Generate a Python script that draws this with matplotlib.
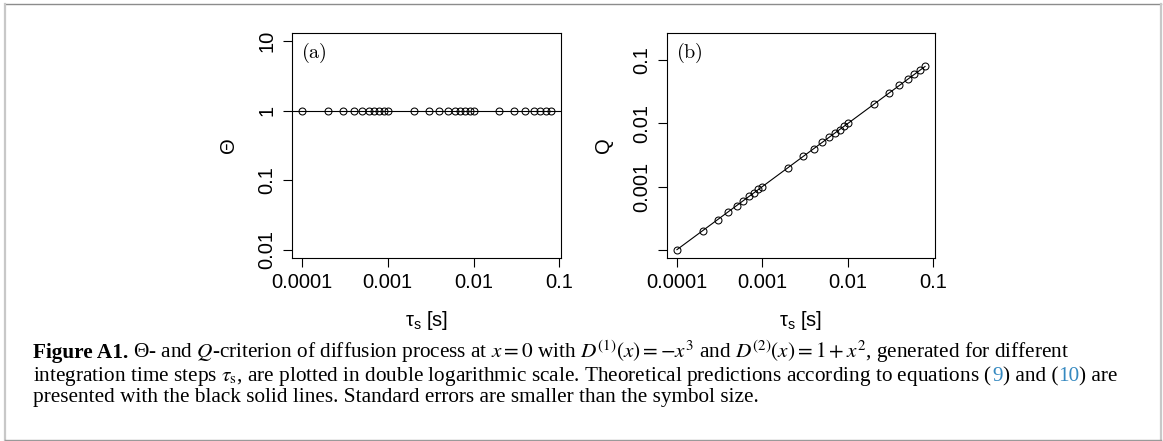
import numpy as np
import matplotlib
matplotlib.use("Agg")
import matplotlib.pyplot as plt
from matplotlib.lines import Line2D
from matplotlib.transforms import IdentityTransform

# integration time steps and measured criteria
tau = [1e-4, 2e-4, 3e-4, 4e-4, 5e-4, 6e-4, 7e-4, 8e-4, 9e-4, 1e-3,
       2e-3, 3e-3, 4e-3, 5e-3, 6e-3, 7e-3, 8e-3, 9e-3, 1e-2,
       2e-2, 3e-2, 4e-2, 5e-2, 6e-2, 7e-2, 8e-2]
theta = [1.0, 1.0, 1.0, 1.0, 1.0, 1.0, 1.0, 1.0, 1.0, 1.0,
         1.0, 1.0, 1.0, 1.0, 1.0, 1.0, 1.0, 1.0, 1.0,
         1.0, 1.0, 1.0, 1.0, 1.0, 1.0, 1.0]
q = [1e-4, 2e-4, 3e-4, 4e-4, 5e-4, 6e-4, 7e-4, 8e-4, 9e-4, 1e-3,
     2e-3, 3e-3, 4e-3, 5e-3, 6e-3, 7e-3, 8e-3, 9e-3, 1e-2,
     2e-2, 3e-2, 4e-2, 5e-2, 6e-2, 7e-2, 8e-2]

# theoretical predictions
theta_theory = 1.0
q_theory_tau = [1e-4, 8e-2]
q_theory = [1e-4, 8e-2]

x_ticks = [1e-4, 1e-3, 1e-2, 1e-1]
x_ticklabels = ["0.0001", "0.001", "0.01", "0.1"]
theta_ticks = [0.01, 0.1, 1, 10]
theta_ticklabels = ["0.01", "0.1", "1", "10"]
q_ticks = [1e-4, 1e-3, 1e-2, 1e-1]
q_ticklabels = ["", "0.001", "0.01", "0.1"]
theta_range = [0.01, 10]
q_range = [1e-4, 0.2]

SANS = "Liberation Sans"
SERIF = "Liberation Serif"
LINK = "#3589c0"

W, H = 1163, 441
fig = plt.figure(figsize=(W / 100, H / 100), dpi=100)


def log_lim(lo, hi):
    # R style 4% padding in log space
    a, b = np.log10(lo), np.log10(hi)
    pad = 0.04 * (b - a)
    return 10 ** (a - pad), 10 ** (b + pad)


def setup_panel(ax, yticks, yticklabels, ylim, ylabel, tag):
    ax.set_xscale("log")
    ax.set_yscale("log")
    ax.set_xlim(*log_lim(min(tau), max(tau)))
    ax.set_ylim(*log_lim(*ylim))
    ax.set_xticks(x_ticks)
    ax.set_xticklabels(x_ticklabels, fontfamily=SANS, fontsize=14.5)
    ax.set_yticks(yticks)
    ax.set_yticklabels(yticklabels, fontfamily=SANS, fontsize=14.5)
    ax.minorticks_off()
    ax.tick_params(axis="both", direction="out", length=6.5, width=0.8, color="black")
    ax.tick_params(axis="x", pad=4.5)
    ax.tick_params(axis="y", pad=4.5, labelrotation=90)
    for lab in ax.get_yticklabels():
        lab.set_verticalalignment("center")
    for sp in ax.spines.values():
        sp.set_linewidth(0.8)
        sp.set_color("black")
    ax.set_xlabel("τ$_\\mathregular{s}$ [s]", fontfamily=SANS, fontsize=14.5)
    ax.xaxis.set_label_coords(0.5, -0.225)
    ax.set_ylabel(ylabel, fontfamily=SANS, fontsize=14.5)
    ax.yaxis.set_label_coords(-0.2, 0.5)
    ax.text(0.033, 0.91, r"$\mathrm{(" + tag + ")}$", transform=ax.transAxes,
            fontsize=14.5, math_fontfamily="cm", ha="left", va="center")


marker_kw = dict(marker="o", markersize=5, markerfacecolor="none",
                 markeredgecolor="black", markeredgewidth=0.75, linestyle="none")

ax_a = fig.add_axes([292 / W, 1 - 258 / H, 269 / W, 225 / H])
ax_a.axhline(theta_theory, color="black", lw=0.8)
ax_a.plot(tau, theta, **marker_kw)
setup_panel(ax_a, theta_ticks, theta_ticklabels, theta_range, "Θ", "a")

ax_b = fig.add_axes([667 / W, 1 - 258 / H, 268 / W, 225 / H])
ax_b.plot(q_theory_tau, q_theory, color="black", lw=0.8)
ax_b.plot(tau, q, **marker_kw)
setup_panel(ax_b, q_ticks, q_ticklabels, q_range, "Q", "b")

# caption, written piece by piece along each baseline
renderer = fig.canvas.get_renderer()


def caption_line(pieces, x0, y_top):
    x = x0
    for s, kw in pieces:
        kw = dict(kw)
        gap = kw.pop("gap", 0)
        t = fig.text(x, H - y_top, s, transform=IdentityTransform(),
                     ha="left", va="baseline", fontfamily=SERIF,
                     fontsize=15.3, math_fontfamily="stix", **kw)
        x = t.get_window_extent(renderer).x1 + gap


caption_line([
    ("Figure A1.", dict(fontweight="bold", gap=5)),
    (r"Θ- and $Q$-criterion of diffusion process at $x=0$ with "
     r"$D^{(1)}(x)=-x^3$ and $D^{(2)}(x)=1+x^2$, generated for different", {}),
], 33, 358)
caption_line([
    (r"integration time steps $\tau_\mathrm{s}$, are plotted in double logarithmic scale. "
     "Theoretical predictions according to equations (", {}),
    ("9", dict(color=LINK)),
    (") and (", {}),
    ("10", dict(color=LINK)),
    (") are", {}),
], 33, 381)
caption_line([
    ("presented with the black solid lines. Standard errors are smaller than the symbol size.", {}),
], 33, 402)

# frame around the whole figure
frame = [((5, 4), (1161, 4), "#8c8c8c", 1.0),
         ((5, 4), (5, 440), "#c8c8c8", 1.6),
         ((1161, 4), (1161, 440), "#c8c8c8", 1.6),
         ((5, 440), (1161, 440), "#9a9a9a", 1.0)]
for (x1, y1), (x2, y2), c, lw in frame:
    fig.add_artist(Line2D([x1, x2], [H - y1, H - y2], transform=IdentityTransform(),
                          color=c, lw=lw))

fig.savefig("out.png", dpi=100)
